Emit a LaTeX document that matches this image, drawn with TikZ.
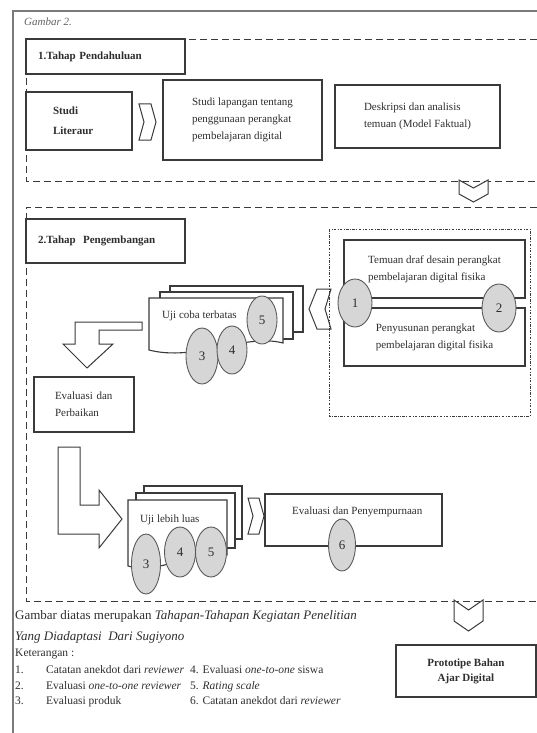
\documentclass[tikz,border=0pt]{standalone}
\usepackage{fontspec}
\setmainfont{Liberation Serif}
\usetikzlibrary{shapes.geometric,positioning}
\definecolor{ln}{HTML}{3A3A3A}
\definecolor{tx}{HTML}{2E2E2E}
\definecolor{nf}{HTML}{D6D6D6}
\definecolor{nd}{HTML}{5A5A5A}
\definecolor{fr}{HTML}{7A7A7A}
\tikzset{box/.style={draw=ln,line width=1.1pt,fill=white,text=tx,align=left,inner sep=0pt,font=\fontsize{11}{17}\selectfont},
 hdr/.style={box,font=\fontsize{11}{15}\bfseries\selectfont},
 num/.style={draw=nd,fill=nf,ellipse,line width=0.9pt,inner sep=0pt,text=tx,font=\fontsize{13}{13}\selectfont},
 page/.style={draw=ln,line width=1.1pt,fill=white},
 chev/.style={draw=ln,line width=1pt,fill=white,line join=miter},
 phasebox/.style={draw=ln,line width=0.9pt,dash pattern=on 7pt off 4pt},
 subbox/.style={draw=ln,line width=0.7pt,dash pattern=on 2.5pt off 1.5pt on 0.7pt off 1.5pt},
 txt/.style={text=tx,inner sep=0pt,font=\fontsize{11}{12}\selectfont},
 foot/.style={txt,font=\fontsize{13}{15}\selectfont},
 legend/.style={txt,font=\fontsize{11.5}{12}\selectfont}}

\begin{document}
\begin{tikzpicture}[x=1pt,y=-1pt]
\useasboundingbox (0,0) rectangle (537,733);
\draw[fr,line width=1.8pt] (537,11)--(13,11)--(13,733);
\node[txt,anchor=base west,text=fr!80!black,font=\fontsize{11}{12}\itshape\selectfont] (gb) at (24,26) {Gambar 2.};
\draw[phasebox] (537,39)--(26,39)--(26,181)--(537,181);
\node[hdr,minimum width=159pt,minimum height=35pt,text width=135pt] (p1) at (105.5,56.5) {1.Tahap Pendahuluan};
\node[hdr,minimum width=106pt,minimum height=58pt,text width=52pt] (sl) at (79,121) {Studi\\[5pt]Literaur};
\draw[chev] (139,104)--(151,104)--(156,122)--(151,140)--(139,140)--(144,122)--cycle;
\node[box,minimum width=159pt,minimum height=80pt] (sf) at (242.5,120) {Studi lapangan tentang\\penggunaan perangkat\\pembelajaran digital};
\node[box,minimum width=165pt,minimum height=63pt] (dk) at (417.5,116.5) {Deskripsi dan analisis\\temuan (Model Faktual)};
\draw[chev] (459,180)--(473.5,188)--(488,180)--(488,194)--(473.5,202)--(459,194)--cycle;
\draw[phasebox] (537,207)--(26,207)--(26,601)--(537,601);
\node[hdr,minimum width=159pt,minimum height=44pt,text width=135pt] (p2) at (105.5,241) {2.Tahap~~Pengembangan};
\draw[chev] (331,289)--(317,289)--(309,309)--(317,329)--(331,329)--(325,309)--cycle;
\draw[subbox] (329,229) rectangle (530,416);
\node[box,minimum width=181pt,minimum height=58pt] (tm) at (434.5,269) {Temuan draf desain perangkat\\pembelajaran digital fisika};
\node[box,minimum width=181pt,minimum height=58pt] (ps) at (434.5,337) {Penyusunan perangkat\\pembelajaran digital fisika};
\node[num,minimum width=34pt,minimum height=48pt] (n1) at (355,303) {1};
\node[num,minimum width=34pt,minimum height=48pt] (n2) at (499,308) {2};
\draw[page] (170,286) rectangle (303,332);
\draw[page] (160,292) rectangle (293,339);
\draw[page] (149,298)--(283,298)--(283,343) .. controls (245,333) and (195,362) .. (149,350)--cycle;
\node[txt,anchor=west] (uc) at (162,316) {Uji coba terbatas};
\node[num,minimum width=32pt,minimum height=56pt] (n3) at (202,356) {3};
\node[num,minimum width=30pt,minimum height=48pt] (n4) at (232,350) {4};
\node[num,minimum width=30pt,minimum height=48pt] (n5) at (262,320) {5};
\draw[chev] (142,322)--(75,322)--(75,344)--(63,344)--(87,368)--(113,344)--(99,344)--(99,330)--(142,330)--cycle;
\node[box,minimum width=100pt,minimum height=55pt,text width=58pt] (ep) at (84,404.5) {Evaluasi dan\\Perbaikan};
\draw[chev] (58,447)--(80,447)--(80,505)--(99,505)--(99,490)--(122,519)--(99,548)--(99,534)--(58,534)--cycle;
\draw[page] (144,486) rectangle (242,539);
\draw[page] (136,493) rectangle (235,548);
\draw[page] (128,500)--(227,500)--(227,555) .. controls (200,548) and (160,575) .. (128,566)--cycle;
\node[txt,anchor=west] (ul) at (140,520) {Uji lebih luas};
\node[num,minimum width=29pt,minimum height=60pt] (m3) at (146,564) {3};
\node[num,minimum width=31pt,minimum height=50pt] (m4) at (180,552) {4};
\node[num,minimum width=31pt,minimum height=50pt] (m5) at (211,552) {5};
\draw[chev] (248,498)--(259,498)--(264,516)--(259,534)--(248,534)--(253,516)--cycle;
\node[box,minimum width=177pt,minimum height=52pt] (es) at (353.5,520) {};
\node[txt,anchor=west] (est) at (292,512) {Evaluasi dan Penyempurnaan};
\node[num,minimum width=27pt,minimum height=52pt] (n6) at (342,545) {6};
\draw[chev] (454,600)--(468.5,610)--(483,600)--(483,621)--(468.5,631)--(454,621)--cycle;
\node[hdr,minimum width=140pt,minimum height=52pt,align=center] (pb) at (466,671) {Prototipe Bahan\\Ajar Digital};
\node[foot,anchor=base west] (g1) at (15,619) {Gambar diatas merupakan \textit{Tahapan-Tahapan Kegiatan Penelitian}};
\node[foot,anchor=base west] (g2) at (15,640) {\textit{Yang Diadaptasi~~Dari Sugiyono}};
\node[legend,anchor=base west] (kt) at (15,656) {Keterangan :};
\node[legend,anchor=base west] (k1n) at (15,673) {1.};
\node[legend,anchor=base west] (k2n) at (15,689) {2.};
\node[legend,anchor=base west] (k3n) at (15,704) {3.};
\node[legend,anchor=base west] (k1) at (46,673) {Catatan anekdot dari \textit{reviewer}};
\node[legend,anchor=base west] (k2) at (46,689) {Evaluasi \textit{one-to-one reviewer}};
\node[legend,anchor=base west] (k3) at (46,704) {Evaluasi produk};
\node[legend,anchor=base west] (k4) at (190,673) {4. Evaluasi \textit{one-to-one} siswa};
\node[legend,anchor=base west] (k5) at (190,689) {5. \textit{Rating scale}};
\node[legend,anchor=base west] (k6) at (190,704) {6. Catatan anekdot dari \textit{reviewer}};
\end{tikzpicture}
\end{document}
